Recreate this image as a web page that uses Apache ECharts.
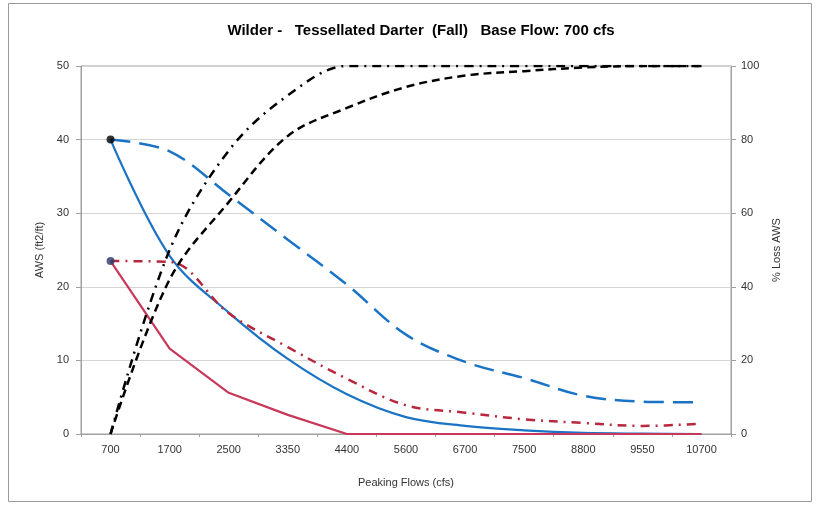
<!DOCTYPE html>
<html>
<head>
<meta charset="utf-8">
<script src="https://cdn.jsdelivr.net/npm/echarts@6/dist/echarts.min.js"></script>
<style>html,body{margin:0;padding:0;background:#fff}#c{width:818px;height:505px}</style>
</head>
<body>
<div id="c"></div>
<script>
var categories = ['700','1700','2500','3350','4400','5600','6700','7500','8800','9550','10700'];
var awsBlueSolid = [40, 24.2, 16.5, 10.2, 5.4, 2.3, 1.1, 0.5, 0.15, 0.05, 0];
var awsBlueDash = [40, 38.4, 32.5, 26.4, 20.3, 13.5, 9.8, 7.6, 5.2, 4.4, 4.3];
var awsRedSolid = [23.5, 11.6, 5.6, 2.6, 0, 0, 0, 0, 0, 0, 0];
var awsRedDashDot = [23.5, 23.4, 16.4, 11.8, 7.5, 3.9, 2.9, 2.0, 1.5, 1.1, 1.4];
var lossDashDot = [0, 50, 77, 92, 100, 100, 100, 100, 100, 100, 100];
var lossDash = [0, 42, 63, 81, 88.6, 94.3, 97.4, 98.6, 99.6, 100, 100];
var leftTicks = [0, 10, 20, 30, 40, 50];
var rightTicks = [0, 20, 40, 60, 80, 100];
var baseMarkers = [[ '700', 40 ], [ '700', 23.5 ]];

var FONT = 'Liberation Sans, Arial, sans-serif';
var SM = 0.35;
var chart = echarts.init(document.getElementById('c'), null, {renderer: 'canvas'});
var labelStyle = {color: '#333', fontFamily: FONT, fontSize: 11};
chart.setOption({
  animation: false,
  backgroundColor: '#fff',
  title: {
    text: 'Wilder -   Tessellated Darter  (Fall)   Base Flow: 700 cfs',
    left: 416, top: 18, textAlign: 'center',
    textStyle: {fontFamily: FONT, fontSize: 15, fontWeight: 'bold', color: '#000'}
  },
  graphic: [{
    type: 'rect', shape: {x: 8.5, y: 3.5, width: 803, height: 498},
    style: {fill: 'none', stroke: '#9a9a9a', lineWidth: 1}, silent: true, z: -1
  }],
  grid: {left: 81, right: 87, top: 66, bottom: 71, show: true, borderColor: '#a0a0a0', borderWidth: 1, backgroundColor: 'transparent'},
  xAxis: {
    type: 'category', data: categories, boundaryGap: true,
    name: 'Peaking Flows (cfs)', nameLocation: 'middle', nameGap: 43,
    nameTextStyle: {color: '#333', fontFamily: FONT, fontSize: 11},
    axisLine: {lineStyle: {color: '#a0a0a0'}},
    axisTick: {show: true, length: 3, inside: false, lineStyle: {color: '#a0a0a0'}},
    axisLabel: Object.assign({margin: 10}, labelStyle)
  },
  yAxis: [{
    type: 'value', min: leftTicks[0], max: leftTicks[leftTicks.length - 1], interval: 10,
    name: 'AWS (ft2/ft)', nameLocation: 'middle', nameGap: 30, nameRotate: 90,
    nameTextStyle: {color: '#333', fontFamily: FONT, fontSize: 11},
    axisLine: {show: true, lineStyle: {color: '#a0a0a0'}},
    axisTick: {show: true, length: 5, lineStyle: {color: '#a0a0a0'}},
    axisLabel: Object.assign({margin: 12}, labelStyle),
    splitLine: {show: true, lineStyle: {color: '#d4d4d4', width: 1}}
  }, {
    type: 'value', min: rightTicks[0], max: rightTicks[rightTicks.length - 1], interval: 20,
    position: 'right',
    name: '% Loss AWS', nameLocation: 'middle', nameGap: 40, nameRotate: 90,
    nameTextStyle: {color: '#333', fontFamily: FONT, fontSize: 11},
    axisLine: {show: true, lineStyle: {color: '#a0a0a0'}},
    axisTick: {show: true, length: 5, lineStyle: {color: '#a0a0a0'}},
    axisLabel: Object.assign({margin: 10}, labelStyle),
    splitLine: {show: false}
  }],
  series: [
    {type: 'line', data: awsBlueDash, yAxisIndex: 0, smooth: SM, symbol: 'none',
     lineStyle: {color: '#1a73c4', width: 2.5, type: [20, 9]}},
    {type: 'line', data: awsBlueSolid, yAxisIndex: 0, smooth: SM, symbol: 'none',
     lineStyle: {color: '#1a73c4', width: 2.2, type: 'solid'}},
    {type: 'line', data: awsRedDashDot, yAxisIndex: 0, smooth: SM, symbol: 'none',
     lineStyle: {color: '#b8283c', width: 2.5, type: [9, 6, 2, 6]}},
    {type: 'line', data: awsRedSolid, yAxisIndex: 0, smooth: false, symbol: 'none',
     lineStyle: {color: '#c8385a', width: 2.2, type: 'solid'}},
    {type: 'line', data: lossDashDot, yAxisIndex: 1, smooth: SM, symbol: 'none',
     lineStyle: {color: '#000', width: 2.5, type: [9, 6, 2, 6]}},
    {type: 'line', data: lossDash, yAxisIndex: 1, smooth: SM, symbol: 'none',
     lineStyle: {color: '#000', width: 2.5, type: [8, 5]}},
    {type: 'scatter', data: [baseMarkers[0]], yAxisIndex: 0, symbol: 'circle', symbolSize: 8,
     itemStyle: {color: '#000'}, z: 5},
    {type: 'scatter', data: [baseMarkers[1]], yAxisIndex: 0, symbol: 'circle', symbolSize: 8,
     itemStyle: {color: '#243a6a'}, z: 5}
  ]
});
</script>
</body>
</html>
